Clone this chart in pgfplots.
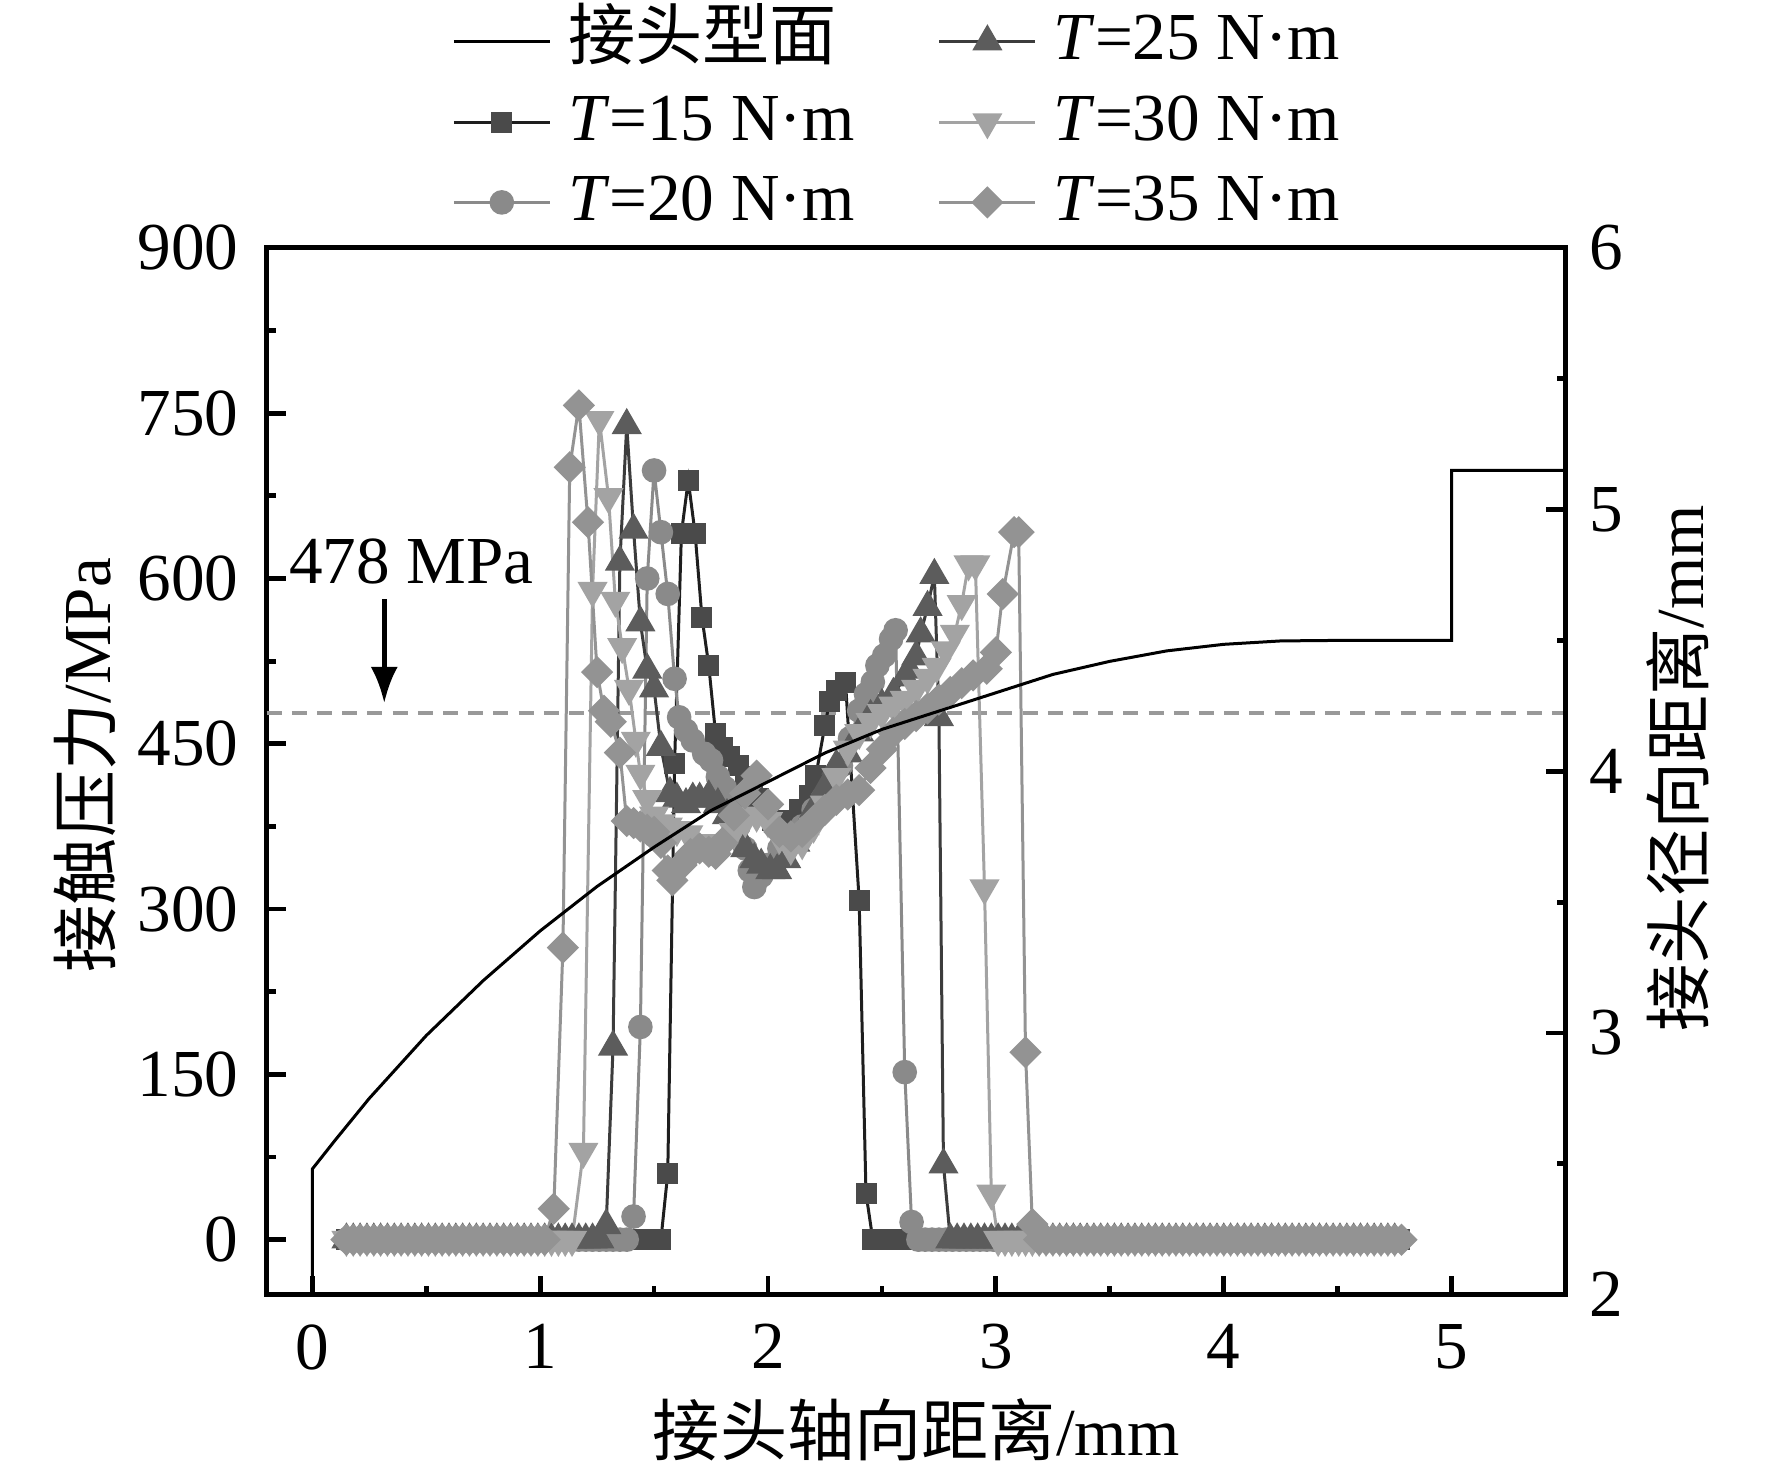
\documentclass[border=0pt]{standalone}
\usepackage{fontspec}
\setmainfont{Liberation Serif}
\newfontfamily\cjk{Noto Sans CJK SC}
\usepackage{pgfplots}
\pgfplotsset{compat=1.18}
\usetikzlibrary{arrows.meta}
\definecolor{cA}{HTML}{4A4A4A}
\definecolor{cAl}{HTML}{1E1E1E}
\definecolor{cB}{HTML}{8A8A8A}
\definecolor{cC}{HTML}{5C5C5C}
\definecolor{cCl}{HTML}{3C3C3C}
\definecolor{cD}{HTML}{A3A3A3}
\definecolor{cE}{HTML}{939393}
\pgfplotsset{
  common/.style={width=216.5pt, height=174.5pt, scale only axis, xmin=-0.2, xmax=5.5,
    tick align=inside, major tick length=3.2pt, minor tick length=1.5pt,
    every tick/.style={black, line width=0.8pt},
    axis line style={line width=0.8pt},
    /pgf/number format/assume math mode=true},
}
\begin{document}
\fontsize{11.2}{13.4}\selectfont
\begin{tikzpicture}
\path[use as bounding box] (-44.45pt,-29pt) rectangle (250.9pt,215.8pt);
\begin{axis}[common,
  ymin=-50, ymax=900,
  xtick={0,1,2,3,4,5}, ytick={0,150,300,450,600,750,900},
  minor x tick num=1, minor y tick num=1,
  xtick pos=left, ytick pos=left,
  xticklabel style={yshift=-1pt},
  yticklabel style={xshift=-0.8pt},
  xlabel={{\cjk 接头轴向距离}/mm},
  ylabel={{\cjk 接触压力}/MPa},
  every axis x label/.style={at={(axis description cs:0.5,-0.129)},anchor=center},
  every axis y label/.style={at={(axis description cs:-0.140,0.506)},anchor=center,rotate=90},
  legend style={draw=none, fill=none, at={(axis description cs:0.142,1.228)}, anchor=north west,
    inner sep=0pt, row sep=3pt,
    nodes={inner sep=0pt, text height=8.2pt, text depth=2.2pt, anchor=west},
    /tikz/every even column/.append style={column sep=13.9pt},
    /tikz/every odd column/.append style={column sep=2.8pt}},
  legend cell align=left,
  transpose legend, legend columns=3,
  legend image code/.code={\draw[mark repeat=2,mark phase=2,#1] plot coordinates {(0pt,0pt)(8pt,0pt)(16pt,0pt)};},
]
\addplot[forget plot, color=black!40, line width=0.6pt, dash pattern=on 2.5pt off 1.7pt] coordinates {(-0.2,478)(5.5,478)};
\addlegendimage{black, line width=0.5pt}
\addlegendentry{{\cjk 接头型面}}
% T=15
\addplot[cAl, line width=0.5pt, mark=square*, mark size=1.5pt, mark options={fill=cA, draw=cA}] coordinates {
(0.15,0)(0.18,0)(0.21,0)(0.24,0)(0.27,0)(0.30,0)(0.33,0)(0.36,0)(0.39,0)(0.42,0)(0.45,0)(0.48,0)(0.51,0)(0.54,0)(0.57,0)(0.60,0)(0.63,0)(0.66,0)(0.69,0)(0.72,0)(0.75,0)(0.78,0)(0.81,0)(0.84,0)(0.87,0)(0.90,0)(0.93,0)(0.96,0)(0.99,0)(1.02,0)(1.05,0)(1.08,0)(1.11,0)(1.14,0)(1.17,0)(1.20,0)(1.23,0)(1.26,0)(1.29,0)(1.32,0)(1.35,0)(1.38,0)(1.41,0)(1.44,0)(1.47,0)(1.50,0)(1.53,0)
(1.56,60)(1.59,432)(1.62,641)(1.65,689)(1.68,641)(1.71,565)(1.74,521)(1.77,459)(1.80,447)(1.83,438)(1.87,430)(1.90,420)(1.93,410)(1.96,400)(1.99,390)(2.02,380)(2.05,375)(2.08,372)(2.11,380)(2.14,390)(2.18,403)(2.21,421)(2.25,467)(2.27,488)(2.30,498)(2.34,506)(2.40,308)(2.43,42)
(2.46,0)(2.49,0)(2.52,0)(2.55,0)(2.58,0)(2.61,0)(2.64,0)(2.67,0)(2.70,0)(2.73,0)(2.76,0)(2.79,0)(2.82,0)(2.85,0)(2.88,0)(2.91,0)(2.94,0)(2.97,0)(3.00,0)(3.03,0)(3.06,0)(3.09,0)(3.12,0)(3.15,0)(3.18,0)(3.21,0)(3.24,0)(3.27,0)(3.30,0)(3.33,0)(3.36,0)(3.39,0)(3.42,0)(3.45,0)(3.48,0)(3.51,0)(3.54,0)(3.57,0)(3.60,0)(3.63,0)(3.66,0)(3.69,0)(3.72,0)(3.75,0)(3.78,0)(3.81,0)(3.84,0)(3.87,0)(3.90,0)(3.93,0)(3.96,0)(3.99,0)(4.02,0)(4.05,0)(4.08,0)(4.11,0)(4.14,0)(4.17,0)(4.20,0)(4.23,0)(4.26,0)(4.29,0)(4.32,0)(4.35,0)(4.38,0)(4.41,0)(4.44,0)(4.47,0)(4.50,0)(4.53,0)(4.56,0)(4.59,0)(4.62,0)(4.65,0)(4.68,0)(4.71,0)(4.74,0)(4.77,0)
};
\addlegendentry{\textit{T}=15 N·m}
% T=20
\addplot[cB, line width=0.5pt, mark=*, mark size=1.8pt, mark options={fill=cB, draw=cB}] coordinates {
(0.15,0)(0.18,0)(0.21,0)(0.24,0)(0.27,0)(0.30,0)(0.33,0)(0.36,0)(0.39,0)(0.42,0)(0.45,0)(0.48,0)(0.51,0)(0.54,0)(0.57,0)(0.60,0)(0.63,0)(0.66,0)(0.69,0)(0.72,0)(0.75,0)(0.78,0)(0.81,0)(0.84,0)(0.87,0)(0.90,0)(0.93,0)(0.96,0)(0.99,0)(1.02,0)(1.05,0)(1.08,0)(1.11,0)(1.14,0)(1.17,0)(1.20,0)(1.23,0)(1.26,0)(1.29,0)(1.32,0)(1.35,0)(1.38,0)
(1.41,21)(1.44,193)(1.47,600)(1.50,698)(1.53,642)(1.56,586)(1.59,509)(1.61,474)(1.64,462)(1.67,453)(1.72,441)(1.75,435)(1.78,420)(1.81,410)(1.84,395)(1.87,375)(1.90,355)(1.92,335)(1.94,320)(1.97,330)(2.00,340)(2.05,355)(2.10,365)(2.15,375)(2.20,390)(2.24,400)(2.28,408)(2.32,430)(2.36,455)(2.40,480)(2.43,495)(2.46,506)(2.48,521)(2.51,530)(2.54,545)(2.56,553)(2.60,152)(2.63,16)
(2.66,0)(2.69,0)(2.72,0)(2.75,0)(2.78,0)(2.81,0)(2.84,0)(2.87,0)(2.90,0)(2.93,0)(2.96,0)(2.99,0)(3.02,0)(3.05,0)(3.08,0)(3.11,0)(3.14,0)(3.17,0)(3.20,0)(3.23,0)(3.26,0)(3.29,0)(3.32,0)(3.35,0)(3.38,0)(3.41,0)(3.44,0)(3.47,0)(3.50,0)(3.53,0)(3.56,0)(3.59,0)(3.62,0)(3.65,0)(3.68,0)(3.71,0)(3.74,0)(3.77,0)(3.80,0)(3.83,0)(3.86,0)(3.89,0)(3.92,0)(3.95,0)(3.98,0)(4.01,0)(4.04,0)(4.07,0)(4.10,0)(4.13,0)(4.16,0)(4.19,0)(4.22,0)(4.25,0)(4.28,0)(4.31,0)(4.34,0)(4.37,0)(4.40,0)(4.43,0)(4.46,0)(4.49,0)(4.52,0)(4.55,0)(4.58,0)(4.61,0)(4.64,0)(4.67,0)(4.70,0)(4.73,0)(4.76,0)
};
\addlegendentry{\textit{T}=20 N·m}
% T=25
\addplot[cCl, line width=0.5pt, mark=triangle*, mark size=2.4pt, mark options={fill=cC, draw=cC}] coordinates {
(0.15,0)(0.18,0)(0.21,0)(0.24,0)(0.27,0)(0.30,0)(0.33,0)(0.36,0)(0.39,0)(0.42,0)(0.45,0)(0.48,0)(0.51,0)(0.54,0)(0.57,0)(0.60,0)(0.63,0)(0.66,0)(0.69,0)(0.72,0)(0.75,0)(0.78,0)(0.81,0)(0.84,0)(0.87,0)(0.90,0)(0.93,0)(0.96,0)(0.99,0)(1.02,0)(1.05,0)(1.08,0)(1.11,0)(1.14,0)(1.17,0)(1.20,0)(1.23,0)(1.26,0)
(1.29,13)(1.32,175)(1.35,615)(1.38,739)(1.41,644)(1.44,560)(1.47,517)(1.50,500)(1.53,447)(1.57,405)(1.60,400)(1.64,395)(1.67,400)(1.70,400)(1.74,402)(1.78,395)(1.82,385)(1.86,370)(1.90,355)(1.94,345)(1.97,340)(2.01,335)(2.04,335)(2.08,345)(2.12,360)(2.16,375)(2.20,390)(2.25,410)(2.30,430)(2.35,441)(2.40,460)(2.45,475)(2.50,485)(2.55,495)(2.60,510)(2.62,517)(2.65,529)(2.67,550)(2.70,574)(2.73,603)(2.75,474)(2.77,68)
(2.80,0)(2.83,0)(2.86,0)(2.89,0)(2.92,0)(2.95,0)(2.98,0)(3.01,0)(3.04,0)(3.07,0)(3.10,0)(3.13,0)(3.16,0)(3.19,0)(3.22,0)(3.25,0)(3.28,0)(3.31,0)(3.34,0)(3.37,0)(3.40,0)(3.43,0)(3.46,0)(3.49,0)(3.52,0)(3.55,0)(3.58,0)(3.61,0)(3.64,0)(3.67,0)(3.70,0)(3.73,0)(3.76,0)(3.79,0)(3.82,0)(3.85,0)(3.88,0)(3.91,0)(3.94,0)(3.97,0)(4.00,0)(4.03,0)(4.06,0)(4.09,0)(4.12,0)(4.15,0)(4.18,0)(4.21,0)(4.24,0)(4.27,0)(4.30,0)(4.33,0)(4.36,0)(4.39,0)(4.42,0)(4.45,0)(4.48,0)(4.51,0)(4.54,0)(4.57,0)(4.60,0)(4.63,0)(4.66,0)(4.69,0)(4.72,0)(4.75,0)
};
\addlegendentry{\textit{T}=25 N·m}
% T=30
\addplot[cD, line width=0.5pt, mark=triangle*, mark size=2.4pt, mark options={fill=cD, draw=cD, rotate=180}] coordinates {
(0.15,0)(0.18,0)(0.21,0)(0.24,0)(0.27,0)(0.30,0)(0.33,0)(0.36,0)(0.39,0)(0.42,0)(0.45,0)(0.48,0)(0.51,0)(0.54,0)(0.57,0)(0.60,0)(0.63,0)(0.66,0)(0.69,0)(0.72,0)(0.75,0)(0.78,0)(0.81,0)(0.84,0)(0.87,0)(0.90,0)(0.93,0)(0.96,0)(0.99,0)(1.02,0)(1.05,0)(1.08,0)(1.11,0)(1.14,0)
(1.19,80)(1.23,589)(1.26,744)(1.30,674)(1.33,580)(1.36,538)(1.39,500)(1.42,453)(1.44,423)(1.47,400)(1.50,385)(1.53,378)(1.56,375)(1.60,372)(1.65,368)(1.70,360)(1.75,355)(1.80,360)(1.85,370)(1.90,380)(1.95,385)(2.00,380)(2.05,365)(2.10,355)(2.15,360)(2.20,375)(2.25,395)(2.30,420)(2.35,445)(2.40,460)(2.45,470)(2.50,478)(2.55,485)(2.60,490)(2.65,500)(2.70,510)(2.74,520)(2.78,535)(2.82,550)(2.85,577)(2.88,613)(2.91,613)(2.95,319)(2.98,42)
(3.01,0)(3.04,0)(3.07,0)(3.10,0)(3.13,0)(3.16,0)(3.19,0)(3.22,0)(3.25,0)(3.28,0)(3.31,0)(3.34,0)(3.37,0)(3.40,0)(3.43,0)(3.46,0)(3.49,0)(3.52,0)(3.55,0)(3.58,0)(3.61,0)(3.64,0)(3.67,0)(3.70,0)(3.73,0)(3.76,0)(3.79,0)(3.82,0)(3.85,0)(3.88,0)(3.91,0)(3.94,0)(3.97,0)(4.00,0)(4.03,0)(4.06,0)(4.09,0)(4.12,0)(4.15,0)(4.18,0)(4.21,0)(4.24,0)(4.27,0)(4.30,0)(4.33,0)(4.36,0)(4.39,0)(4.42,0)(4.45,0)(4.48,0)(4.51,0)(4.54,0)(4.57,0)(4.60,0)(4.63,0)(4.66,0)(4.69,0)(4.72,0)(4.75,0)
};
\addlegendentry{\textit{T}=30 N·m}
% T=35
\addplot[cE, line width=0.5pt, mark=square*, mark size=1.65pt, mark options={fill=cE, draw=cE, rotate=45}] coordinates {
(0.15,0)(0.18,0)(0.21,0)(0.24,0)(0.27,0)(0.30,0)(0.33,0)(0.36,0)(0.39,0)(0.42,0)(0.45,0)(0.48,0)(0.51,0)(0.54,0)(0.57,0)(0.60,0)(0.63,0)(0.66,0)(0.69,0)(0.72,0)(0.75,0)(0.78,0)(0.81,0)(0.84,0)(0.87,0)(0.90,0)(0.93,0)(0.96,0)(0.99,0)(1.02,0)
(1.06,28)(1.10,265)(1.13,701)(1.17,757)(1.21,651)(1.25,515)(1.28,480)(1.31,470)(1.35,442)(1.38,380)(1.41,378)(1.44,375)(1.47,372)(1.50,370)(1.53,360)(1.56,335)(1.58,326)(1.62,340)(1.66,350)(1.70,355)(1.74,352)(1.77,350)(1.80,360)(1.85,385)(1.90,405)(1.95,421)(2.00,395)(2.05,370)(2.10,366)(2.15,370)(2.20,380)(2.25,390)(2.30,399)(2.35,404)(2.40,408)(2.45,428)(2.50,445)(2.55,460)(2.60,468)(2.65,475)(2.70,482)(2.75,490)(2.80,497)(2.85,505)(2.90,512)(2.96,518)(3.00,533)(3.03,586)(3.08,642)(3.10,642)(3.13,170)(3.16,14)
(3.19,0)(3.22,0)(3.25,0)(3.28,0)(3.31,0)(3.34,0)(3.37,0)(3.40,0)(3.43,0)(3.46,0)(3.49,0)(3.52,0)(3.55,0)(3.58,0)(3.61,0)(3.64,0)(3.67,0)(3.70,0)(3.73,0)(3.76,0)(3.79,0)(3.82,0)(3.85,0)(3.88,0)(3.91,0)(3.94,0)(3.97,0)(4.00,0)(4.03,0)(4.06,0)(4.09,0)(4.12,0)(4.15,0)(4.18,0)(4.21,0)(4.24,0)(4.27,0)(4.30,0)(4.33,0)(4.36,0)(4.39,0)(4.42,0)(4.45,0)(4.48,0)(4.51,0)(4.54,0)(4.57,0)(4.60,0)(4.63,0)(4.66,0)(4.69,0)(4.72,0)(4.75,0)(4.78,0)
};
\addlegendentry{\textit{T}=35 N·m}
\node at (axis cs:0.435,615) {478 MPa};
\draw[-{Latex[length=6pt,width=4.5pt]}, line width=0.8pt] (axis cs:0.316,581) -- (axis cs:0.316,487);
\end{axis}
\begin{axis}[common,
  ymin=2, ymax=6,
  axis y line*=right, axis x line=none,
  ytick={2,3,4,5,6}, minor y tick num=1,
  ylabel={{\cjk 接头径向距离}/mm},
  every axis y label/.style={at={(axis description cs:1.0865,0.503)},anchor=center,rotate=90},
]
\addplot[black, line width=0.5pt] coordinates {
(0,2)(0,2.48)(0.1,2.59)(0.25,2.75)(0.5,2.99)(0.75,3.20)(1.0,3.39)(1.25,3.56)(1.5,3.71)(1.75,3.85)(2.0,3.96)(2.25,4.07)(2.5,4.16)(2.75,4.23)(3.0,4.30)(3.25,4.37)(3.5,4.42)(3.75,4.46)(4.0,4.485)(4.25,4.498)(4.5,4.5)(5.0,4.5)(5.0,5.15)(5.5,5.15)
};
\end{axis}
\end{tikzpicture}
\end{document}
